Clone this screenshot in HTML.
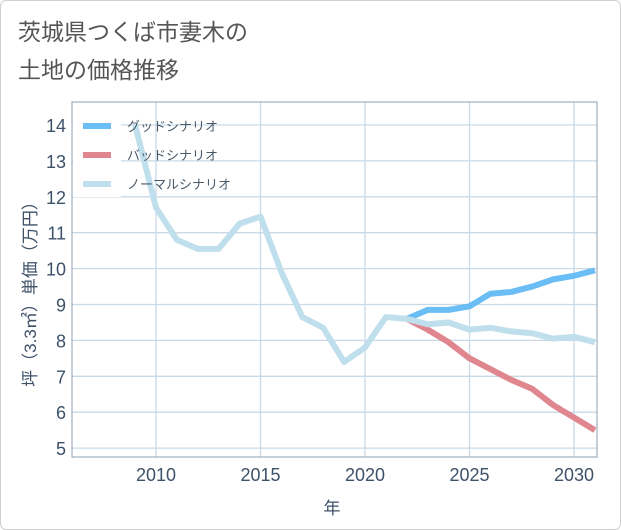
<!DOCTYPE html>
<html><head><meta charset="utf-8"><style>
body{margin:0;background:#fff;font-family:"Liberation Sans","Noto Sans CJK JP",sans-serif;}
#card{position:absolute;left:0;top:0;width:619px;height:528px;border:1px solid #d0d0d0;border-radius:6px;}
</style></head><body>
<div id="card"></div>
<svg id="chart" width="621" height="530" style="position:absolute;left:0;top:0">
<text x="18" y="40" font-size="23" fill="#555">茨城県つくば市妻木の</text>
<text x="18" y="78" font-size="23" fill="#555">土地の価格推移</text>
</svg>
<script>
const years=[2009,2010,2011,2012,2013,2014,2015,2016,2017,2018,2019,2020,2021,2022,2023,2024,2025,2026,2027,2028,2029,2030,2031];
const normalVals=[14,11.7,10.8,10.55,10.55,11.25,11.45,9.9,8.65,8.35,7.4,7.8,8.65,8.6,8.45,8.5,8.3,8.35,8.25,8.2,8.05,8.1,7.95];
const forecastYears=[2022,2023,2024,2025,2026,2027,2028,2029,2030,2031];
const goodVals=[8.6,8.85,8.85,8.95,9.3,9.35,9.5,9.7,9.8,9.95];
const badVals=[8.6,8.3,7.95,7.5,7.2,6.9,6.65,6.2,5.85,5.5];
const xTicks=[2010,2015,2020,2025,2030];
const yTicks=[5,6,7,8,9,10,11,12,13,14];
const L=72,R=597,T=102,B=457;
const xs=v=>156+(v-2010)*20.9;
const ys=v=>125+(14-v)*35.9;
const svg=document.getElementById('chart');
const NS='http://www.w3.org/2000/svg';
function mk(t,a){const e=document.createElementNS(NS,t);for(const k in a)e.setAttribute(k,a[k]);svg.appendChild(e);return e;}
yTicks.forEach(v=>{
 const g=mk('line',{x1:L,x2:R,y1:ys(v),y2:ys(v),stroke:'#c9d9e6','stroke-width':1.3});
 
 
 const t=mk('text',{x:L-6,y:ys(v)+7,'text-anchor':'end','font-size':18,fill:'#3d5168'});
 t.textContent=v;
 
 
});
xTicks.forEach(v=>{
 const g=mk('line',{x1:xs(v),x2:xs(v),y1:T,y2:B,stroke:'#c9d9e6','stroke-width':1.3});
 
 
 const t=mk('text',{x:xs(v),y:B+24,'text-anchor':'middle','font-size':18,fill:'#3d5168'});
 t.textContent=v;
 
 
});
const fr=mk('rect',{x:L,y:T,width:R-L,height:B-T,fill:'none',stroke:'#8fa0b0','stroke-width':1});


const lb=mk('rect',{x:L+1,y:T+1,width:48,height:94,fill:'#fff'});


function line(xv,yv,c,n){
 const p=mk('polyline',{points:xv.map((x,i)=>xs(x)+','+ys(yv[i])).join(' '),fill:'none',stroke:c,'stroke-width':6,'stroke-linejoin':'round'});
 
 
}
line(forecastYears,goodVals,'#6bbdf5','good-scenario-line');
line(forecastYears,badVals,'#e0868f','bad-scenario-line');
line(years,normalVals,'#c0dfec','normal-scenario-line');
[['グッドシナリオ','#6bbdf5'],['バッドシナリオ','#e0868f'],['ノーマルシナリオ','#c0dfec']].forEach((d,i)=>{
 const y=126+i*29;
 const s=mk('line',{x1:83,x2:111,y1:y,y2:y,stroke:d[1],'stroke-width':6});
 
 
 const t=mk('text',{x:127,y:y+5,'font-size':13,fill:'#4a5a6a'});
 t.textContent=d[0];
 
 
});
const yt=mk('text',{x:0,y:0,'font-size':17,fill:'#3d5168','text-anchor':'middle',transform:'translate(36,290) rotate(-90)'});
yt.textContent='坪（3.3㎡）単価（万円）';


const xt=mk('text',{x:332,y:514,'font-size':17,fill:'#3d5168','text-anchor':'middle'});
xt.textContent='年';


</script>
</body></html>
